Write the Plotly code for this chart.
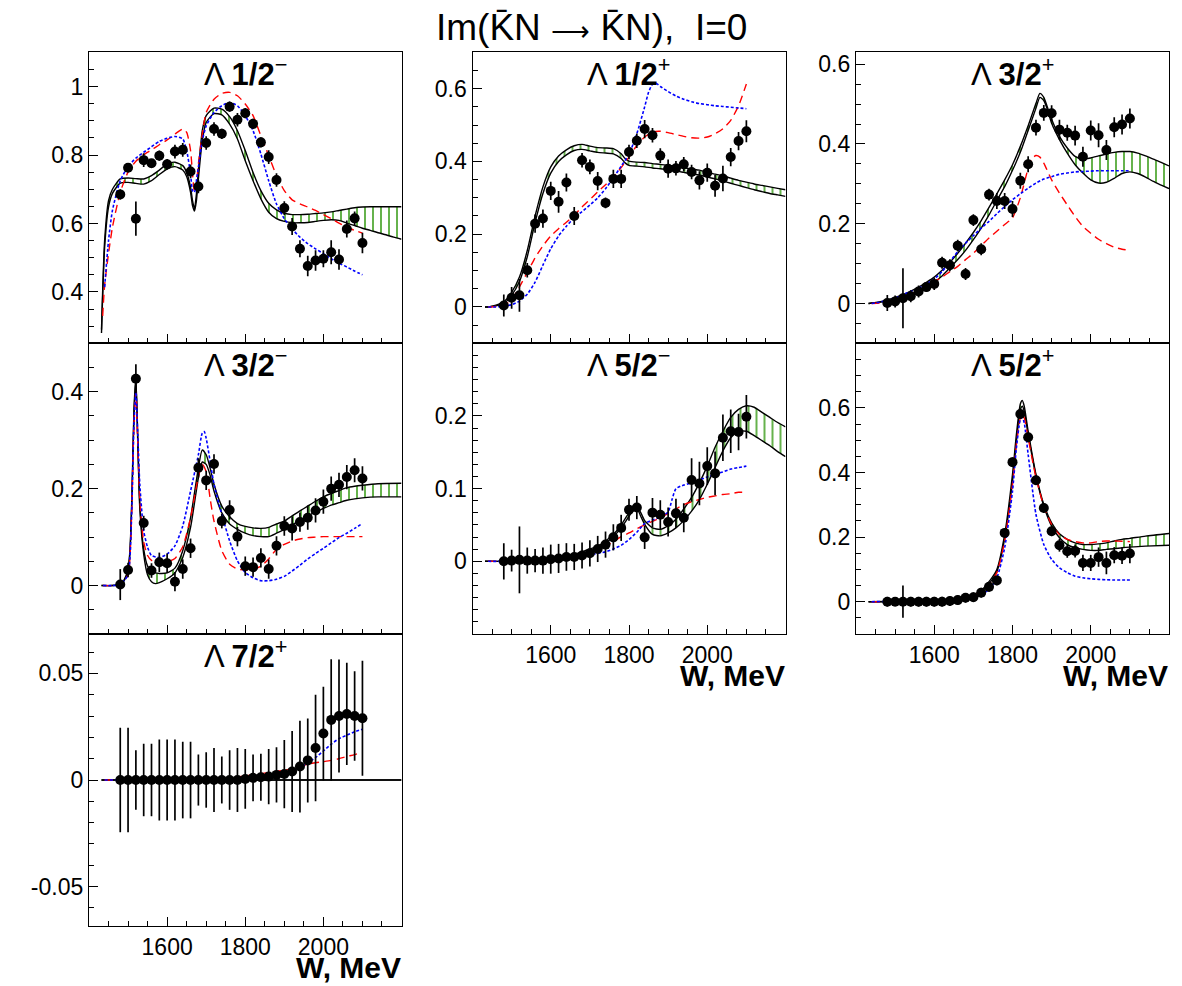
import plotly.graph_objects as go

FONT = "Liberation Sans, Arial, Helvetica, sans-serif"

# ---------------- data ----------------
W_DATA = [1480, 1500, 1520, 1540, 1560, 1580, 1600, 1620, 1640, 1660, 1680, 1700, 1720, 1740, 1760, 1780,
          1800, 1820, 1840, 1860, 1880, 1900, 1920, 1940, 1960, 1980, 2000, 2020, 2040, 2060, 2080, 2100]

# Panel 1: Lambda 1/2-
p1_val = [0.685, 0.763, 0.614, 0.785, 0.776, 0.798, 0.773, 0.810, 0.815, 0.752, 0.708, 0.835, 0.876, 0.862, 0.941, 0.903,
          0.922, 0.891, 0.837, 0.794, 0.727, 0.645, 0.591, 0.526, 0.476, 0.492, 0.497, 0.516, 0.495, 0.584, 0.615, 0.543]
p1_err = [0.015, 0.01, 0.05, 0.02, 0.01, 0.015, 0.015, 0.02, 0.02, 0.02, 0.02, 0.02, 0.02, 0.015, 0.015, 0.02,
          0.015, 0.015, 0.015, 0.02, 0.02, 0.02, 0.025, 0.025, 0.03, 0.03, 0.025, 0.035, 0.03, 0.025, 0.02, 0.03]
p1_band_w = [1432, 1440, 1450, 1460, 1480, 1500, 1520, 1540, 1560, 1580, 1600, 1620, 1640, 1650, 1660, 1665, 1670, 1675,
             1680, 1690, 1700, 1720, 1740, 1760, 1780, 1800, 1820, 1840, 1860, 1880, 1900, 1920, 1940, 1960, 1980, 2000,
             2020, 2040, 2060, 2080, 2100, 2120, 2140, 2160, 2180, 2200]
p1_band_hi = [0.29, 0.55, 0.667, 0.70, 0.730, 0.733, 0.731, 0.730, 0.740, 0.756, 0.774, 0.779, 0.769, 0.749, 0.706, 0.667,
              0.643, 0.686, 0.754, 0.871, 0.915, 0.937, 0.934, 0.912, 0.871, 0.813, 0.749, 0.696, 0.659, 0.640, 0.630,
              0.626, 0.626, 0.627, 0.629, 0.631, 0.634, 0.638, 0.642, 0.646, 0.648, 0.649, 0.649, 0.649, 0.649, 0.649]
p1_band_lo = [0.28, 0.53, 0.648, 0.688, 0.718, 0.720, 0.717, 0.715, 0.725, 0.743, 0.759, 0.766, 0.756, 0.737, 0.691, 0.652,
              0.636, 0.667, 0.730, 0.842, 0.895, 0.921, 0.917, 0.890, 0.847, 0.783, 0.725, 0.672, 0.633, 0.614, 0.606,
              0.602, 0.602, 0.603, 0.606, 0.609, 0.611, 0.609, 0.601, 0.594, 0.586, 0.580, 0.573, 0.567, 0.560, 0.554]
p1_red_w = [1435, 1440, 1450, 1460, 1480, 1500, 1520, 1540, 1560, 1580, 1600, 1620, 1640, 1650, 1660, 1665, 1670, 1675,
            1680, 1690, 1700, 1720, 1740, 1760, 1780, 1800, 1820, 1840, 1860, 1880, 1900, 1920, 1940, 1960, 1980, 2000,
            2020, 2040, 2060, 2080, 2100]
p1_red = [0.33, 0.42, 0.512, 0.589, 0.691, 0.75, 0.782, 0.801, 0.815, 0.830, 0.844, 0.861, 0.876, 0.866, 0.813, 0.745,
          0.691, 0.715, 0.774, 0.861, 0.924, 0.963, 0.980, 0.983, 0.973, 0.949, 0.915, 0.856, 0.798, 0.740, 0.696,
          0.669, 0.657, 0.648, 0.638, 0.626, 0.614, 0.601, 0.589, 0.580, 0.572]
p1_blue_w = [1440, 1450, 1460, 1480, 1500, 1520, 1540, 1560, 1580, 1600, 1620, 1640, 1650, 1660, 1665, 1670, 1675, 1680,
             1690, 1700, 1720, 1740, 1760, 1780, 1800, 1820, 1840, 1860, 1880, 1900, 1920, 1940, 1960, 1980, 2000, 2020,
             2040, 2060, 2080, 2100]
p1_blue = [0.414, 0.55, 0.638, 0.725, 0.766, 0.791, 0.808, 0.824, 0.840, 0.849, 0.854, 0.847, 0.813, 0.745, 0.696, 0.691,
           0.725, 0.764, 0.842, 0.885, 0.924, 0.944, 0.953, 0.944, 0.915, 0.871, 0.803, 0.725, 0.657, 0.614, 0.584,
           0.560, 0.541, 0.526, 0.512, 0.497, 0.484, 0.473, 0.461, 0.450]

# Panel 2: Lambda 1/2+
p2_val = [0.004, 0.025, 0.032, 0.101, 0.229, 0.243, 0.319, 0.289, 0.342, 0.250, 0.403, 0.385, 0.346, 0.286, 0.352, 0.352,
          0.426, 0.457, 0.489, 0.472, 0.416, 0.380, 0.381, 0.392, 0.371, 0.348, 0.369, 0.333, 0.353, 0.412, 0.456, 0.483]
p2_err = [0.03, 0.03, 0.045, 0.02, 0.025, 0.025, 0.025, 0.03, 0.025, 0.025, 0.02, 0.02, 0.025, 0.015, 0.025, 0.025,
          0.02, 0.02, 0.025, 0.02, 0.02, 0.025, 0.02, 0.02, 0.02, 0.025, 0.025, 0.03, 0.035, 0.025, 0.025, 0.03]
p2_band_w = [1432, 1440, 1450, 1460, 1480, 1500, 1520, 1540, 1560, 1580, 1600, 1620, 1640, 1660, 1680, 1700, 1720, 1740,
             1760, 1780, 1790, 1800, 1820, 1840, 1860, 1880, 1900, 1920, 1940, 1960, 1980, 2000, 2020, 2040, 2060, 2080,
             2100, 2120, 2140, 2160, 2180, 2200]
p2_band_hi = [0, 0, 0.002, 0.005, 0.014, 0.040, 0.082, 0.155, 0.250, 0.330, 0.385, 0.415, 0.432, 0.443, 0.447, 0.442,
              0.438, 0.437, 0.435, 0.421, 0.408, 0.401, 0.398, 0.397, 0.394, 0.392, 0.389, 0.387, 0.383, 0.379, 0.376,
              0.370, 0.365, 0.360, 0.354, 0.348, 0.343, 0.338, 0.334, 0.330, 0.326, 0.322]
p2_band_lo = [0, 0, 0.001, 0.003, 0.009, 0.032, 0.070, 0.138, 0.232, 0.312, 0.368, 0.400, 0.418, 0.430, 0.433, 0.429,
              0.425, 0.423, 0.421, 0.408, 0.396, 0.389, 0.387, 0.385, 0.382, 0.380, 0.377, 0.374, 0.370, 0.366, 0.363,
              0.357, 0.352, 0.346, 0.340, 0.334, 0.328, 0.322, 0.317, 0.312, 0.308, 0.304]
p2_red_w = [1440, 1460, 1480, 1500, 1520, 1540, 1560, 1580, 1600, 1620, 1640, 1660, 1680, 1700, 1720, 1740, 1760, 1780,
            1800, 1820, 1840, 1860, 1880, 1900, 1920, 1940, 1960, 1980, 2000, 2020, 2040, 2060, 2080, 2100]
p2_red = [0, 0.001, 0.005, 0.02, 0.055, 0.095, 0.135, 0.168, 0.195, 0.215, 0.233, 0.252, 0.275, 0.295, 0.316, 0.336,
          0.357, 0.383, 0.412, 0.444, 0.467, 0.481, 0.483, 0.479, 0.474, 0.469, 0.465, 0.464, 0.467, 0.476, 0.490,
          0.513, 0.553, 0.613]
p2_blue_w = [1440, 1460, 1480, 1500, 1520, 1540, 1560, 1580, 1600, 1620, 1640, 1660, 1680, 1700, 1720, 1740, 1760, 1780,
             1800, 1820, 1840, 1850, 1860, 1870, 1880, 1900, 1920, 1940, 1960, 1980, 2000, 2020, 2040, 2060, 2080, 2100]
p2_blue = [0, 0, 0.002, 0.006, 0.016, 0.035, 0.068, 0.115, 0.160, 0.195, 0.222, 0.245, 0.262, 0.280, 0.300, 0.325, 0.355,
           0.387, 0.420, 0.476, 0.550, 0.590, 0.612, 0.614, 0.606, 0.592, 0.580, 0.571, 0.564, 0.559, 0.556, 0.553,
           0.551, 0.549, 0.547, 0.545]

# Panel 3: Lambda 3/2+
p3_val = [0.001, 0.005, 0.013, 0.018, 0.030, 0.041, 0.049, 0.102, 0.096, 0.145, 0.074, 0.209, 0.136, 0.273, 0.257, 0.257,
          0.237, 0.308, 0.349, 0.441, 0.478, 0.477, 0.436, 0.428, 0.421, 0.368, 0.434, 0.422, 0.385, 0.442, 0.449, 0.464]
p3_err = [0.02, 0.015, 0.075, 0.015, 0.015, 0.012, 0.015, 0.015, 0.015, 0.015, 0.015, 0.015, 0.015, 0.015, 0.02, 0.02,
          0.02, 0.02, 0.02, 0.02, 0.02, 0.02, 0.025, 0.02, 0.025, 0.025, 0.025, 0.03, 0.025, 0.025, 0.025, 0.025]
p3_band_w = [1432, 1440, 1460, 1480, 1500, 1520, 1540, 1560, 1580, 1600, 1620, 1640, 1660, 1680, 1700, 1720, 1740, 1760,
             1780, 1800, 1820, 1840, 1860, 1870, 1880, 1890, 1900, 1920, 1940, 1960, 1980, 2000, 2020, 2040, 2060, 2080,
             2100, 2120, 2140, 2160, 2180, 2200]
p3_band_hi = [0, 0.001, 0.004, 0.009, 0.015, 0.022, 0.031, 0.041, 0.053, 0.066, 0.083, 0.103, 0.126, 0.151, 0.178, 0.208,
              0.241, 0.275, 0.310, 0.348, 0.394, 0.446, 0.502, 0.527, 0.517, 0.490, 0.462, 0.419, 0.390, 0.369, 0.362,
              0.365, 0.370, 0.375, 0.379, 0.381, 0.381, 0.377, 0.370, 0.362, 0.354, 0.345]
p3_band_lo = [0, 0.001, 0.003, 0.006, 0.011, 0.017, 0.024, 0.033, 0.043, 0.054, 0.069, 0.089, 0.110, 0.133, 0.160, 0.189,
              0.222, 0.258, 0.293, 0.334, 0.379, 0.434, 0.490, 0.517, 0.509, 0.484, 0.452, 0.411, 0.377, 0.348, 0.327,
              0.310, 0.302, 0.304, 0.314, 0.326, 0.330, 0.326, 0.317, 0.306, 0.297, 0.288]
p3_red_w = [1440, 1460, 1480, 1500, 1520, 1540, 1560, 1580, 1600, 1620, 1640, 1660, 1680, 1700, 1720, 1740, 1760, 1780,
            1800, 1820, 1840, 1850, 1860, 1870, 1880, 1900, 1920, 1940, 1960, 1980, 2000, 2020, 2040, 2060, 2080, 2100]
p3_red = [0, 0.001, 0.003, 0.008, 0.013, 0.022, 0.033, 0.043, 0.055, 0.066, 0.080, 0.093, 0.110, 0.126, 0.145, 0.164,
          0.181, 0.198, 0.215, 0.265, 0.339, 0.364, 0.371, 0.367, 0.352, 0.310, 0.277, 0.247, 0.218, 0.193, 0.176,
          0.161, 0.150, 0.141, 0.136, 0.133]
p3_blue_w = [1440, 1460, 1480, 1500, 1520, 1540, 1560, 1580, 1600, 1620, 1640, 1660, 1680, 1700, 1720, 1740, 1760, 1780,
             1800, 1820, 1840, 1860, 1880, 1900, 1920, 1940, 1960, 1980, 2000, 2020, 2040, 2060, 2080, 2100]
p3_blue = [0, 0.003, 0.008, 0.013, 0.022, 0.030, 0.038, 0.049, 0.061, 0.080, 0.105, 0.130, 0.151, 0.170, 0.189, 0.206,
           0.225, 0.243, 0.260, 0.275, 0.289, 0.302, 0.312, 0.318, 0.324, 0.327, 0.330, 0.331, 0.332, 0.333, 0.333,
           0.333, 0.333, 0.333]

# Panel 4: Lambda 3/2-
p4_val = [0.002, 0.032, 0.427, 0.129, 0.031, 0.048, 0.046, 0.008, 0.034, 0.077, 0.243, 0.217, 0.251, 0.133, 0.156, 0.101,
          0.040, 0.038, 0.057, 0.034, 0.082, 0.123, 0.118, 0.131, 0.140, 0.155, 0.173, 0.200, 0.208, 0.224, 0.238, 0.221]
p4_err = [0.032, 0.015, 0.03, 0.015, 0.015, 0.02, 0.02, 0.02, 0.02, 0.02, 0.02, 0.02, 0.02, 0.015, 0.02, 0.02,
          0.02, 0.02, 0.02, 0.02, 0.02, 0.02, 0.025, 0.02, 0.025, 0.025, 0.025, 0.025, 0.025, 0.025, 0.025, 0.025]
p4_band_w = [1432, 1460, 1480, 1490, 1500, 1505, 1510, 1515, 1520, 1525, 1530, 1540, 1550, 1560, 1570, 1580, 1600, 1620,
             1640, 1660, 1680, 1690, 1700, 1710, 1720, 1740, 1760, 1780, 1800, 1820, 1840, 1860, 1880, 1900, 1920, 1940,
             1960, 1980, 2000, 2020, 2040, 2060, 2080, 2100, 2140, 2200]
p4_band_hi = [0, 0, 0.003, 0.012, 0.035, 0.075, 0.19, 0.36, 0.43, 0.30, 0.17, 0.075, 0.040, 0.030, 0.026, 0.025, 0.026,
              0.036, 0.072, 0.14, 0.243, 0.280, 0.270, 0.243, 0.209, 0.164, 0.142, 0.128, 0.122, 0.119, 0.118, 0.120,
              0.127, 0.133, 0.144, 0.154, 0.164, 0.174, 0.183, 0.190, 0.196, 0.202, 0.205, 0.207, 0.210, 0.211]
p4_band_lo = [0, 0, 0.002, 0.010, 0.030, 0.070, 0.18, 0.35, 0.425, 0.29, 0.16, 0.065, 0.022, 0.008, 0.004, 0.006, 0.014,
              0.026, 0.058, 0.12, 0.222, 0.255, 0.250, 0.228, 0.195, 0.150, 0.127, 0.116, 0.108, 0.103, 0.101, 0.101,
              0.108, 0.116, 0.125, 0.135, 0.144, 0.152, 0.159, 0.166, 0.171, 0.176, 0.179, 0.181, 0.183, 0.183]
p4_red_w = [1436, 1460, 1480, 1500, 1505, 1510, 1515, 1520, 1525, 1530, 1540, 1550, 1560, 1580, 1600, 1620, 1640, 1660,
            1680, 1690, 1700, 1710, 1720, 1740, 1760, 1780, 1800, 1820, 1840, 1860, 1880, 1900, 1920, 1940, 1960, 1980,
            2000, 2020, 2040, 2060, 2080, 2100]
p4_red = [0, 0, 0.002, 0.022, 0.06, 0.17, 0.33, 0.40, 0.29, 0.18, 0.09, 0.062, 0.052, 0.048, 0.049, 0.056, 0.08, 0.14,
          0.225, 0.250, 0.235, 0.18, 0.133, 0.072, 0.044, 0.034, 0.032, 0.034, 0.040, 0.055, 0.075, 0.085, 0.092,
          0.096, 0.099, 0.100, 0.101, 0.101, 0.101, 0.101, 0.101, 0.101]
p4_blue_w = [1436, 1460, 1480, 1500, 1505, 1510, 1515, 1520, 1525, 1530, 1540, 1550, 1560, 1580, 1600, 1620, 1640, 1660,
             1680, 1690, 1695, 1700, 1710, 1720, 1740, 1760, 1780, 1800, 1820, 1840, 1860, 1880, 1900, 1920, 1940, 1960,
             1980, 2000, 2020, 2040, 2060, 2080, 2100]
p4_blue = [0, 0, 0.002, 0.022, 0.06, 0.17, 0.33, 0.40, 0.31, 0.21, 0.113, 0.079, 0.062, 0.058, 0.065, 0.082, 0.123, 0.195,
           0.270, 0.315, 0.318, 0.304, 0.257, 0.209, 0.147, 0.092, 0.051, 0.027, 0.016, 0.010, 0.010, 0.013, 0.019,
           0.030, 0.042, 0.055, 0.066, 0.077, 0.088, 0.099, 0.108, 0.118, 0.128]

# Panel 5: Lambda 5/2-
p5_val = [0, 0.001, 0.002, 0.001, 0.001, 0.001, 0.003, 0.004, 0.006, 0.006, 0.008, 0.011, 0.017, 0.023, 0.033, 0.046,
          0.071, 0.074, 0.033, 0.067, 0.064, 0.054, 0.066, 0.060, 0.112, 0.107, 0.131, 0.121, 0.170, 0.179, 0.178, 0.199]
p5_err = [0.025, 0.015, 0.046, 0.018, 0.016, 0.018, 0.02, 0.02, 0.019, 0.018, 0.018, 0.018, 0.018, 0.018, 0.018, 0.018,
          0.015, 0.016, 0.016, 0.02, 0.02, 0.02, 0.02, 0.02, 0.03, 0.03, 0.026, 0.03, 0.032, 0.03, 0.025, 0.03]
p5_band_w = [1432, 1480, 1520, 1560, 1580, 1600, 1620, 1640, 1660, 1680, 1700, 1720, 1740, 1760, 1780, 1800, 1810, 1820,
             1830, 1840, 1860, 1880, 1900, 1920, 1940, 1960, 1980, 2000, 2020, 2040, 2060, 2080, 2100, 2120, 2140, 2160,
             2180, 2200]
p5_band_hi = [0, 0, 0.001, 0.002, 0.003, 0.004, 0.006, 0.008, 0.010, 0.013, 0.017, 0.021, 0.028, 0.037, 0.050, 0.067,
              0.073, 0.075, 0.067, 0.056, 0.046, 0.044, 0.049, 0.058, 0.072, 0.088, 0.108, 0.131, 0.157, 0.179, 0.198,
              0.209, 0.214, 0.212, 0.205, 0.198, 0.191, 0.185]
p5_band_lo = [0, 0, 0.001, 0.002, 0.003, 0.004, 0.006, 0.008, 0.009, 0.011, 0.014, 0.019, 0.025, 0.034, 0.046, 0.062,
              0.069, 0.073, 0.062, 0.051, 0.037, 0.035, 0.039, 0.046, 0.056, 0.069, 0.085, 0.106, 0.129, 0.152, 0.170,
              0.179, 0.179, 0.173, 0.166, 0.159, 0.151, 0.144]
p5_red_w = [1440, 1480, 1520, 1560, 1600, 1640, 1680, 1700, 1720, 1740, 1760, 1780, 1800, 1820, 1840, 1860, 1880, 1900,
            1920, 1940, 1960, 1980, 2000, 2020, 2040, 2060, 2080, 2100]
p5_red = [0, 0, 0.001, 0.002, 0.003, 0.006, 0.010, 0.013, 0.017, 0.021, 0.027, 0.034, 0.039, 0.045, 0.050, 0.055, 0.060,
          0.066, 0.072, 0.078, 0.082, 0.085, 0.088, 0.090, 0.092, 0.093, 0.095, 0.095]
p5_blue_w = [1440, 1480, 1560, 1600, 1640, 1680, 1700, 1720, 1740, 1760, 1780, 1800, 1820, 1840, 1860, 1880, 1900, 1910,
             1920, 1940, 1960, 1980, 2000, 2020, 2040, 2060, 2080, 2100]
p5_blue = [0, 0, 0.001, 0.002, 0.004, 0.007, 0.009, 0.011, 0.013, 0.017, 0.022, 0.030, 0.040, 0.052, 0.057, 0.061, 0.068,
           0.085, 0.100, 0.105, 0.108, 0.112, 0.116, 0.120, 0.123, 0.127, 0.129, 0.131]

# Panel 6: Lambda 5/2+
p6_val = [0, 0, 0, 0, 0, 0, 0, 0, 0.002, 0.005, 0.012, 0.014, 0.028, 0.046, 0.066, 0.213,
          0.432, 0.581, 0.509, 0.376, 0.290, 0.218, 0.175, 0.156, 0.157, 0.120, 0.120, 0.138, 0.120, 0.144, 0.142, 0.149]
p6_err = [0.015, 0.01, 0.05, 0.015, 0.015, 0.015, 0.015, 0.015, 0.015, 0.015, 0.015, 0.015, 0.015, 0.015, 0.015, 0.015,
          0.015, 0.015, 0.015, 0.015, 0.015, 0.015, 0.02, 0.02, 0.02, 0.025, 0.025, 0.03, 0.035, 0.025, 0.025, 0.03]
p6_band_w = [1432, 1600, 1640, 1680, 1700, 1720, 1740, 1760, 1780, 1800, 1810, 1820, 1825, 1830, 1840, 1860, 1880, 1900,
             1920, 1940, 1960, 1980, 2000, 2020, 2040, 2060, 2080, 2100, 2140, 2200]
p6_band_hi = [0, 0.002, 0.005, 0.012, 0.021, 0.035, 0.062, 0.100, 0.208, 0.394, 0.518, 0.612, 0.623, 0.605, 0.528, 0.394,
              0.301, 0.244, 0.210, 0.193, 0.182, 0.177, 0.177, 0.179, 0.182, 0.188, 0.193, 0.196, 0.203, 0.211]
p6_band_lo = [0, 0.002, 0.005, 0.012, 0.020, 0.033, 0.056, 0.093, 0.196, 0.373, 0.497, 0.595, 0.605, 0.590, 0.518, 0.389,
              0.296, 0.234, 0.198, 0.177, 0.167, 0.162, 0.159, 0.159, 0.162, 0.164, 0.167, 0.169, 0.172, 0.175]
p6_red_w = [1440, 1600, 1680, 1700, 1720, 1740, 1760, 1780, 1800, 1810, 1820, 1825, 1830, 1840, 1860, 1880, 1900, 1920,
            1940, 1960, 1980, 2000, 2020, 2040, 2060, 2080, 2100]
p6_red = [0, 0.001, 0.010, 0.018, 0.031, 0.052, 0.090, 0.188, 0.363, 0.487, 0.569, 0.579, 0.569, 0.507, 0.384, 0.296,
          0.239, 0.208, 0.193, 0.186, 0.182, 0.182, 0.186, 0.188, 0.188, 0.187, 0.186]
p6_blue_w = [1440, 1680, 1700, 1720, 1740, 1760, 1780, 1800, 1810, 1820, 1825, 1830, 1840, 1860, 1880, 1900, 1920, 1940,
             1960, 1980, 2000, 2020, 2040, 2060, 2080, 2100]
p6_blue = [0, 0.007, 0.012, 0.023, 0.038, 0.074, 0.167, 0.342, 0.476, 0.564, 0.571, 0.554, 0.456, 0.270, 0.177, 0.131,
           0.105, 0.090, 0.079, 0.074, 0.071, 0.069, 0.068, 0.067, 0.067, 0.067]

# Panel 7: Lambda 7/2+
p7_val = [0, 0, 0, 0, 0, 0, 0, 0, 0, 0, 0, 0, 0, 0, 0, 0,
          0.0005, 0.001, 0.0013, 0.0016, 0.0024, 0.0028, 0.004, 0.0063, 0.0092, 0.015, 0.0218, 0.0282, 0.030, 0.031,
          0.030, 0.029]
p7_err = [0.0245, 0.0245, 0.014, 0.017, 0.017, 0.019, 0.019, 0.019, 0.018, 0.018, 0.012, 0.013, 0.015, 0.011, 0.014,
          0.015, 0.014, 0.011, 0.011, 0.013, 0.013, 0.016, 0.019, 0.0215, 0.0197, 0.025, 0.022, 0.0285, 0.0265, 0.024,
          0.021, 0.027]
p7_band_w = [1432, 2200]
p7_band_hi = [0, 0]
p7_band_lo = [0, 0]
p7_red_w = [1440, 1700, 1740, 1780, 1800, 1840, 1880, 1920, 1940, 1960, 1980, 2000, 2020, 2040, 2060, 2080, 2090]
p7_red = [0, 0, 0.0006, 0.0014, 0.0019, 0.003, 0.004, 0.0053, 0.0063, 0.0074, 0.0081, 0.0086, 0.0092, 0.010, 0.011,
          0.0119, 0.0125]
p7_blue_w = [1440, 1780, 1800, 1840, 1880, 1900, 1920, 1940, 1960, 1980, 2000, 2020, 2040, 2060, 2080, 2100]
p7_blue = [0, 0, 0.0003, 0.0008, 0.0017, 0.0025, 0.0038, 0.0058, 0.0081, 0.0105, 0.0136, 0.0168, 0.0194, 0.021,
           0.0226, 0.0238]

TITLES = ["1/2", "1/2", "3/2", "3/2", "5/2", "5/2", "7/2"]
PARITY = ["\u2212", "+", "+", "\u2212", "\u2212", "+", "+"]
Y_TICKVALS = [[0.4, 0.6, 0.8, 1.0], [0, 0.2, 0.4, 0.6], [0, 0.2, 0.4, 0.6], [0, 0.2, 0.4],
              [0, 0.1, 0.2], [0, 0.2, 0.4, 0.6], [-0.05, 0, 0.05]]
Y_TICKTEXT = [["0.4", "0.6", "0.8", "1"], ["0", "0.2", "0.4", "0.6"], ["0", "0.2", "0.4", "0.6"], ["0", "0.2", "0.4"],
              ["0", "0.1", "0.2"], ["0", "0.2", "0.4", "0.6"], ["-0.05", "0", "0.05"]]
X_TICKVALS = [1600, 1800, 2000]
X_TICKTEXT = ["1600", "1800", "2000"]

DATA = [
    (p1_val, p1_err, p1_band_w, p1_band_hi, p1_band_lo, p1_red_w, p1_red, p1_blue_w, p1_blue),
    (p2_val, p2_err, p2_band_w, p2_band_hi, p2_band_lo, p2_red_w, p2_red, p2_blue_w, p2_blue),
    (p3_val, p3_err, p3_band_w, p3_band_hi, p3_band_lo, p3_red_w, p3_red, p3_blue_w, p3_blue),
    (p4_val, p4_err, p4_band_w, p4_band_hi, p4_band_lo, p4_red_w, p4_red, p4_blue_w, p4_blue),
    (p5_val, p5_err, p5_band_w, p5_band_hi, p5_band_lo, p5_red_w, p5_red, p5_blue_w, p5_blue),
    (p6_val, p6_err, p6_band_w, p6_band_hi, p6_band_lo, p6_red_w, p6_red, p6_blue_w, p6_blue),
    (p7_val, p7_err, p7_band_w, p7_band_hi, p7_band_lo, p7_red_w, p7_red, p7_blue_w, p7_blue),
]

# ---------------- layout / style ----------------
W_PX, H_PX = 1182, 986
COLS = [(89, 401.5), (472.5, 785.5), (856, 1169)]
ROWS = [(52.3, 343.3), (343.3, 634), (634, 926)]
GRID = [(0, 0), (0, 1), (0, 2), (1, 0), (1, 1), (1, 2), (2, 0)]
Y_RANGES = [(0.25, 1.1), (-0.1, 0.7), (-0.1, 0.63), (-0.1, 0.5), (-0.1, 0.3), (-0.1, 0.8), (-0.0685, 0.0685)]
Y_MINOR = [0.05, 0.05, 0.05, 0.05, 0.1 / 6, 0.05, 0.01]
SHOW_XLABELS = [False, False, False, False, True, True, True]
XTITLE_BOTTOM = [None, None, None, None, 694, 694, 986]   # pixel y of the bottom of the "W, MeV" box

GREEN = "#3f9f1f"
fig = go.Figure()
layout = dict(
    width=W_PX, height=H_PX, autosize=False,
    margin=dict(l=0, r=0, t=0, b=0),
    paper_bgcolor="white", plot_bgcolor="white",
    showlegend=False, template="none",
    font=dict(family=FONT, color="black"),
)
annotations = []

for i, (vals, errs, bw, bhi, blo, rw, rv, blw, blv) in enumerate(DATA):
    n = i + 1
    xa = "x" if n == 1 else f"x{n}"
    ya = "y" if n == 1 else f"y{n}"
    r, c = GRID[i]
    x0, x1 = COLS[c]
    y0, y1 = ROWS[r]

    # band: lower line, then upper line filled with green hatch
    fig.add_trace(go.Scatter(x=bw, y=blo, mode="lines", xaxis=xa, yaxis=ya,
                             line=dict(color="black", width=1.4, shape="spline", smoothing=0.6),
                             hoverinfo="skip"))
    fig.add_trace(go.Scatter(x=bw, y=bhi, mode="lines", xaxis=xa, yaxis=ya, fill="tonexty",
                             fillcolor="rgba(0,0,0,0)",
                             fillpattern=dict(shape="|", fgcolor=GREEN, bgcolor="rgba(0,0,0,0)",
                                              size=8, solidity=0.2),
                             line=dict(color="black", width=1.4, shape="spline", smoothing=0.6),
                             hoverinfo="skip"))
    fig.add_trace(go.Scatter(x=rw, y=rv, mode="lines", xaxis=xa, yaxis=ya,
                             line=dict(color="#ff0000", width=1.4, dash="8px,5px", shape="spline", smoothing=0.6)))
    fig.add_trace(go.Scatter(x=blw, y=blv, mode="lines", xaxis=xa, yaxis=ya,
                             line=dict(color="#0000ff", width=1.6, dash="3px,2px", shape="spline", smoothing=0.6)))
    fig.add_trace(go.Scatter(x=W_DATA, y=vals, mode="markers", xaxis=xa, yaxis=ya,
                             marker=dict(color="black", size=10),
                             error_y=dict(type="data", array=errs, visible=True, thickness=1.7, width=0,
                                          color="black")))

    axkey_x = "xaxis" if n == 1 else f"xaxis{n}"
    axkey_y = "yaxis" if n == 1 else f"yaxis{n}"
    layout[axkey_x] = dict(
        domain=[x0 / W_PX, x1 / W_PX], range=[1400, 2200], anchor=ya,
        showline=True, mirror=True, linecolor="black", linewidth=1.2,
        ticks="inside", ticklen=9, tickwidth=1.3, tickcolor="black",
        tickmode="array", tickvals=X_TICKVALS, ticktext=X_TICKTEXT,
        showticklabels=SHOW_XLABELS[i], tickfont=dict(size=23, family=FONT, color="black"),
        minor=dict(ticks="inside", ticklen=5, tickwidth=1.2, tickcolor="black", tick0=1400, dtick=50,
                   showgrid=False),
        showgrid=False, zeroline=False, fixedrange=True,
    )
    layout[axkey_y] = dict(
        domain=[1 - y1 / H_PX, 1 - y0 / H_PX], range=list(Y_RANGES[i]), anchor=xa,
        showline=True, mirror=True, linecolor="black", linewidth=1.2,
        ticks="inside", ticklen=9, tickwidth=1.3, tickcolor="black",
        tickmode="array", tickvals=Y_TICKVALS[i], ticktext=Y_TICKTEXT[i],
        tickfont=dict(size=23, family=FONT, color="black"),
        minor=dict(ticks="inside", ticklen=5, tickwidth=1.2, tickcolor="black", tick0=0, dtick=Y_MINOR[i],
                   showgrid=False),
        showgrid=False, zeroline=False, fixedrange=True,
    )
    annotations.append(dict(
        x=(x0 + x1) / 2 / W_PX, y=1 - (y0 + 20) / H_PX, xref="paper", yref="paper",
        xanchor="center", yanchor="middle", showarrow=False,
        text=f"\u039b <b>{TITLES[i]}</b><sup>{PARITY[i]}</sup>",
        font=dict(size=31, family=FONT, color="black"),
    ))
    if SHOW_XLABELS[i]:
        annotations.append(dict(
            x=(x1 + 1) / W_PX, y=1 - XTITLE_BOTTOM[i] / H_PX, xref="paper", yref="paper",
            xanchor="right", yanchor="bottom", showarrow=False,
            text="<b>W, MeV</b>", font=dict(size=30, family=FONT, color="black"),
        ))

annotations.append(dict(
    x=591.5 / W_PX, y=1 - 27 / H_PX, xref="paper", yref="paper",
    xanchor="center", yanchor="middle", showarrow=False,
    text="Im(K\u0304N <span style='font-size:27px'>\u27f6</span> K\u0304N),\u00a0 I=0",
    font=dict(size=37, family=FONT, color="black"),
))
layout["annotations"] = annotations
fig.update_layout(**layout)

fig.write_html("out.html")
